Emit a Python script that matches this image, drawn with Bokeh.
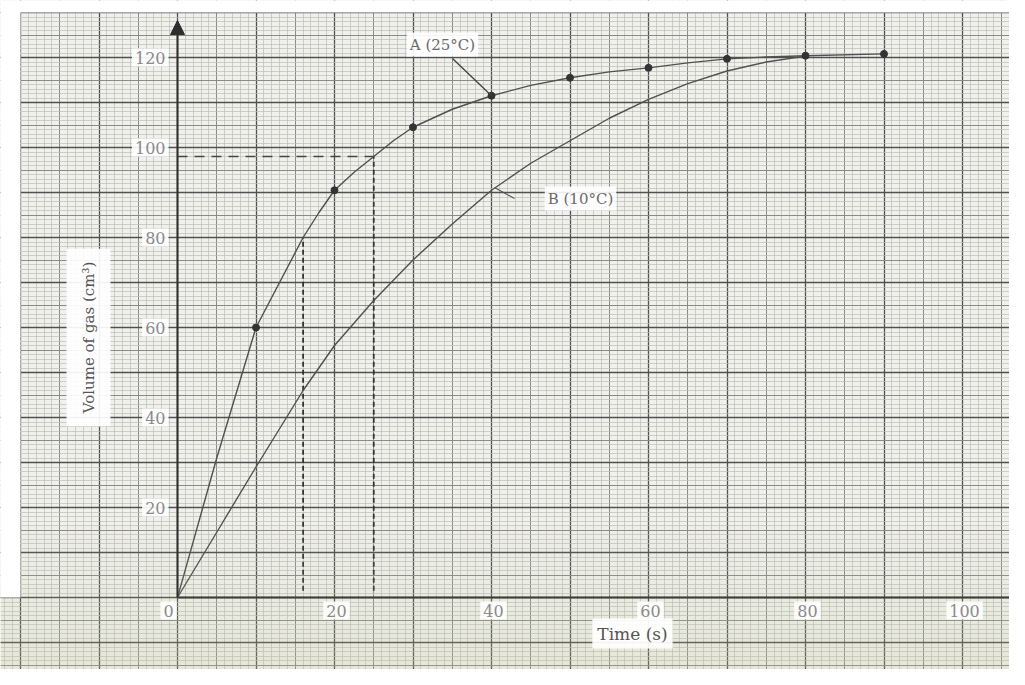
import math
from bokeh.plotting import figure
from bokeh.models import (Range1d, Grid, SingleIntervalTicker, Label, Arrow,
                          NormalHead, BoxAnnotation)
from bokeh.embed import file_html
from bokeh.resources import INLINE

# ---- data ----
time_a_dots = [10, 20, 30, 40, 50, 60, 70, 80, 90]
vol_a_dots = [60, 90.5, 104.5, 111.5, 115.5, 117.7, 119.7, 120.4, 120.8]
time_a_curve = [0, 5, 10, 16, 18, 20, 22.5, 25, 27.5, 30, 35, 40, 45, 50, 55, 60, 65, 70, 75, 80, 90]
vol_a_curve = [0, 31, 60, 80, 85.5, 90.5, 94.5, 98, 101.5, 104.5, 108.5, 111.5, 113.8,
               115.5, 116.8, 117.7, 118.8, 119.7, 120.1, 120.4, 120.8]
time_b_curve = [0, 5, 10, 16, 20, 25, 30, 35, 40, 45, 50, 55, 60, 65, 70, 75, 80]
vol_b_curve = [0, 14.5, 29, 46, 56, 66, 75, 83, 90.5, 96.5, 101.5, 106.5, 110.7, 114.2,
               117, 119, 120.3]
guide_times = [16, 25]
guide_volumes = [80, 98]
x_tick_values = [0, 20, 40, 60, 80, 100]
y_tick_values = [20, 40, 60, 80, 100, 120]
x_title = "Time (s)"
y_title = "Volume of gas (cm³)"
label_a = "A (25°C)"
label_b = "B (10°C)"

SERIF = "DejaVu Serif"
PXX = 7.85   # screen px per second
PXY = 4.5    # screen px per cm3
X0, Y0 = 177, 597
W, H = 1009, 669

p = figure(width=W, height=H, output_backend="svg", toolbar_location=None,
           x_range=Range1d(-X0 / PXX, (W - X0) / PXX),
           y_range=Range1d(-(H - Y0) / PXY, Y0 / PXY),
           x_axis_location=None, y_axis_location=None, min_border=0)
p.outline_line_color = None
p.background_fill_color = "#f0f0ed"
p.border_fill_color = "white"

# graph-paper grid
for dim in (0, 1):
    g1 = Grid(dimension=dim, ticker=SingleIntervalTicker(interval=5, num_minor_ticks=5),
              grid_line_color="#8a8a88", grid_line_width=1,
              minor_grid_line_color="#bdbdb8", minor_grid_line_width=0.7)
    g2 = Grid(dimension=dim, ticker=SingleIntervalTicker(interval=10),
              grid_line_color="#505050", grid_line_width=1.3)
    p.add_layout(g1)
    p.add_layout(g2)

# photo tint at bottom
n = 12
top_v, bot_v = 16, -16
for i in range(n):
    t = top_v - (top_v - bot_v) * i / n
    b = top_v - (top_v - bot_v) * (i + 1) / n
    p.add_layout(BoxAnnotation(bottom=b, top=t, fill_color="#c4c78f",
                               fill_alpha=0.03 + 0.2 * i / n, line_color=None))

# white margins outside the paper
p.add_layout(BoxAnnotation(bottom=(Y0 - 12) / PXY, fill_color="white", fill_alpha=1, line_color=None))
p.add_layout(BoxAnnotation(right=(20 - X0) / PXX, bottom=0, fill_color="white", fill_alpha=1,
                           line_color=None))

# axes
p.segment(x0=[0], y0=[0], x1=[120], y1=[0], line_color="#2e2e2e", line_width=2)
p.add_layout(Arrow(end=NormalHead(size=14, fill_color="#2e2e2e", line_color="#2e2e2e"),
                   x_start=0, y_start=0, x_end=0, y_end=(Y0 - 20) / PXY,
                   line_color="#2e2e2e", line_width=2))

# guide dashed lines
p.segment(x0=[0], y0=[guide_volumes[1]], x1=[guide_times[1]], y1=[guide_volumes[1]],
          line_color="#444444", line_width=1.3, line_dash="10 7")
p.segment(x0=guide_times, y0=[1.5, 1.5], x1=guide_times, y1=guide_volumes,
          line_color="#333333", line_width=1.8, line_dash="5 3")

# curves
p.line(time_a_curve, vol_a_curve, line_color="#505050", line_width=1.4)
p.line(time_b_curve, vol_b_curve, line_color="#505050", line_width=1.4)
p.scatter(time_a_dots, vol_a_dots, size=7, color="#333333")

# tick labels
for v in y_tick_values:
    p.add_layout(Label(x=0, y=v, x_offset=-9, text=str(v), text_align="right",
                       text_baseline="middle", text_font=SERIF, text_font_size="16px",
                       text_color="#8a8a8a", background_fill_color="white",
                       background_fill_alpha=0.9, padding=3))
for t in x_tick_values:
    p.add_layout(Label(x=t, y=0, y_offset=-4, x_offset=(-9 if t == 0 else 2), text=str(t),
                       text_align="center", text_baseline="top", text_font=SERIF,
                       text_font_size="16px", text_color="#8a8a8a",
                       background_fill_color="white", background_fill_alpha=0.9, padding=3))

# axis titles
p.add_layout(Label(x=(632 - X0) / PXX, y=(Y0 - 633) / PXY, text=x_title, text_align="center",
                   text_baseline="middle", text_font=SERIF, text_font_size="17px",
                   text_color="#555555", background_fill_color="white",
                   background_fill_alpha=0.92, padding=5))
p.add_layout(Label(x=(88 - X0) / PXX, y=(Y0 - 337) / PXY, text=y_title, angle=math.pi / 2,
                   text_align="center", text_baseline="middle", text_font=SERIF,
                   text_font_size="15px", text_color="#555555", background_fill_color="white",
                   background_fill_alpha=0.92, padding=13))

# curve labels with pointers
p.segment(x0=[(452 - X0) / PXX], y0=[(Y0 - 58) / PXY], x1=[time_a_dots[3]], y1=[vol_a_dots[3]],
          line_color="#404040", line_width=1.3)
p.add_layout(Label(x=(442 - X0) / PXX, y=(Y0 - 44) / PXY, text=label_a, text_align="center",
                   text_baseline="middle", text_font=SERIF, text_font_size="15px",
                   text_color="#6a6a6a", background_fill_color="white",
                   background_fill_alpha=0.9, padding=3))
p.segment(x0=[(514 - X0) / PXX], y0=[(Y0 - 198) / PXY], x1=[(494 - X0) / PXX],
          y1=[(Y0 - 187) / PXY], line_color="#555555", line_width=1.1)
p.add_layout(Label(x=(580 - X0) / PXX, y=(Y0 - 198) / PXY, text=label_b, text_align="center",
                   text_baseline="middle", text_font=SERIF, text_font_size="15px",
                   text_color="#6a6a6a", background_fill_color="white",
                   background_fill_alpha=0.9, padding=3))

open("out.html", "w").write(file_html(p, INLINE))
